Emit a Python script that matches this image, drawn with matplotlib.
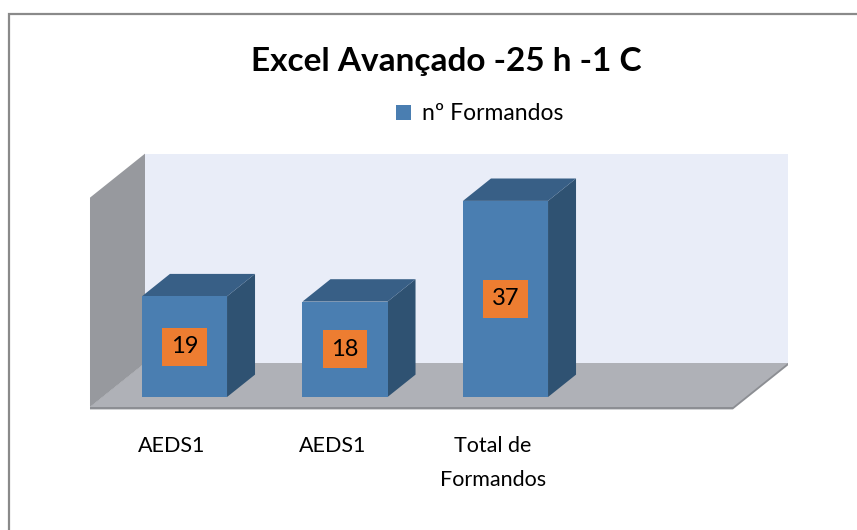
import matplotlib
matplotlib.use("Agg")
import matplotlib.pyplot as plt
from matplotlib.patches import Polygon, Rectangle, Patch

plt.rcParams['font.family'] = ['Lato', 'DejaVu Sans']

# data
title = "Excel Avançado -25 h -1 C"
series_name = "nº Formandos"
categories = ["AEDS1", "AEDS1", "Total de\nFormandos"]
values = [19, 18, 37]

# colours
c_front = '#4A7EB1'
c_top = '#385F86'
c_side = '#2F5272'
c_back = '#E9EDF8'
c_wall = '#97999E'
c_floor = '#AFB1B7'
c_floor_edge = '#8C8E93'
c_label = '#ED7D31'

# oblique depth projection (x in category units, y in value units)
DX, DY = 0.3427, 8.30
TB0, TB1 = 0.227, 0.736   # bar depth range within the floor
HW = 0.265                # half bar width
XL, XR, YTOP = -0.511, 3.495, 39.5
TH = 0.45                 # floor thickness


def proj(x, y, t):
    return (x + (t - TB0) * DX, y + (t - TB0) * DY)


fig = plt.figure(figsize=(8.57, 5.30), dpi=100)
ax = fig.add_axes([0, 0, 1, 1])
ax.set_xlim(-1.1495, 4.190)
ax.set_ylim(-25.09, 74.9)
ax.axis('off')


def face(pts, color, z):
    ax.add_patch(Polygon(pts, closed=True, facecolor=color,
                         edgecolor='none', zorder=z))


# walls and floor
face([proj(XL, 0, 1), proj(XR, 0, 1), proj(XR, YTOP, 1), proj(XL, YTOP, 1)], c_back, 1)
face([proj(XL, 0, 0), proj(XL, 0, 1), proj(XL, YTOP, 1), proj(XL, YTOP, 0)], c_wall, 2)
face([proj(XL, -TH, 0), proj(XR, -TH, 0), proj(XR, -TH, 1), proj(XR, 0, 1),
      proj(XL, 0, 1), proj(XL, 0, 0)], c_floor_edge, 2)
face([proj(XL, 0, 0), proj(XR, 0, 0), proj(XR, 0, 1), proj(XL, 0, 1)], c_floor, 3)

# bars
for i, v in enumerate(values):
    x0, x1 = i - HW, i + HW
    face([proj(x1, 0, TB0), proj(x1, 0, TB1), proj(x1, v, TB1), proj(x1, v, TB0)], c_side, 4)
    face([proj(x0, v, TB0), proj(x1, v, TB0), proj(x1, v, TB1), proj(x0, v, TB1)], c_top, 4)
    face([proj(x0, 0, TB0), proj(x1, 0, TB0), proj(x1, v, TB0), proj(x0, v, TB0)], c_front, 5)
    lx, ly = proj(i, v / 2, TB0)
    ax.text(lx, ly, str(v), ha='center', va='center', fontsize=17, zorder=6,
            bbox=dict(boxstyle='square,pad=0.36', fc=c_label, ec='none'))

# category labels on the floor front edge
for i, cat in enumerate(categories):
    lx, _ = proj(i, 0, 0)
    ax.text(lx, -7.3, cat, ha='center', va='top', fontsize=15.5,
            linespacing=1.9, color='black')

fig.text(446 / 857, 1 - 61 / 530, title, ha='center', va='center',
         fontsize=24, fontweight='bold')

fig.legend(handles=[Patch(facecolor=c_front, edgecolor='none')],
           labels=[series_name], loc='center',
           bbox_to_anchor=(480 / 857, 1 - 114 / 530), frameon=False,
           fontsize=16.5, handlelength=0.65, handleheight=0.65,
           handletextpad=0.5)

# chart border (top and left edges visible)
fig.patches.append(Rectangle((9 / 857, -0.1), 1.2, 1.1 - 14 / 530,
                             transform=fig.transFigure, fill=False,
                             edgecolor='#8A8A8A', linewidth=1.6))

fig.savefig('out.png', dpi=100)
